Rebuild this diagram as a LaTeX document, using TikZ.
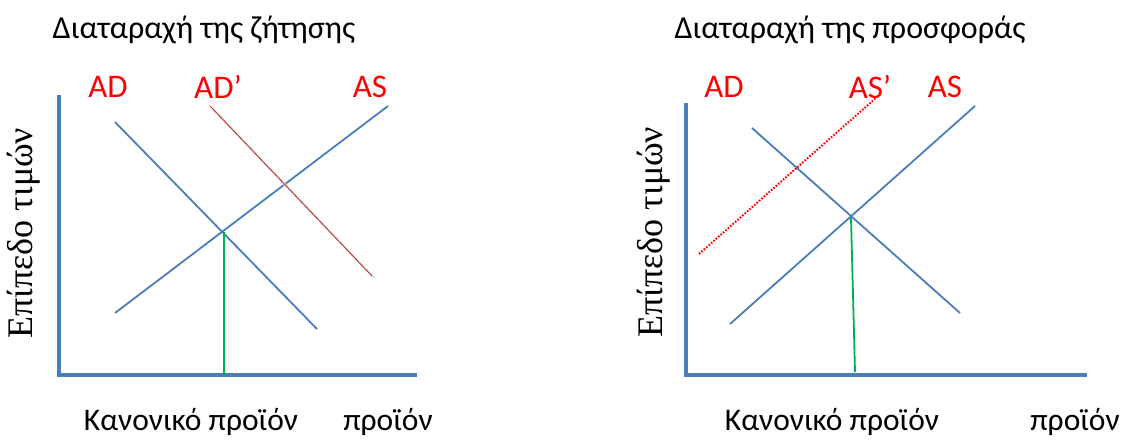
\documentclass[tikz,border=0pt]{standalone}
\usepackage{fontspec}
\setmainfont{Carlito}
\newfontfamily\serifgr{Liberation Serif}
\definecolor{axblue}{RGB}{74,126,187}
\definecolor{lnblue}{RGB}{74,126,187}
\definecolor{grn}{RGB}{0,176,80}
\definecolor{dred}{RGB}{192,40,40}
\begin{document}
\begin{tikzpicture}[x=1pt,y=-1pt,
  axis/.style={draw=axblue,line width=4pt},
  curve/.style={draw=lnblue,line width=1.8pt},
  eqline/.style={draw=grn,line width=1.8pt},
  lbl/.style={text=red,font=\fontsize{33}{36}\selectfont,inner sep=0pt},
  ttl/.style={text=black,font=\fontsize{32}{35}\selectfont,inner sep=0pt},
  xlbl/.style={text=black,font=\fontsize{31.5}{34}\selectfont,inner sep=0pt},
  ylbl/.style={text=black,font=\serifgr\fontsize{36}{38}\selectfont,inner sep=0pt,rotate=90}]
\useasboundingbox (0,0) rectangle (1123,439);
% ---------- left panel ----------
\node[ttl] (t1) at (204,30) {Διαταραχή της ζήτησης};
\node[lbl] (l1ad) at (108,87) {AD};
\node[lbl] (l1adp) at (218,87) {AD’};
\node[lbl] (l1as) at (370,87) {AS};
\node[ylbl] (y1) at (24,233) {Επίπεδο τιμών};
\node[xlbl] (x1a) at (191,422) {Κανονικό προϊόν};
\node[xlbl] (x1b) at (388,422) {προϊόν};
\coordinate (o1) at (59,375);
\coordinate (y1t) at (59,95);
\coordinate (x1r) at (417,375);
\coordinate (ad1s) at (115,122);
\coordinate (ad1e) at (317,329);
\coordinate (as1s) at (115,313);
\coordinate (as1e) at (388,106);
\coordinate (adp1s) at (210,106);
\coordinate (adp1e) at (372,276);
\coordinate (e1) at (224,232);
\coordinate (e1b) at (224,375);
\draw[axis] (y1t) -- (o1) -- (x1r);
\draw[curve] (ad1s) -- (ad1e);
\draw[curve] (as1s) -- (as1e);
\draw[black!12,line width=2pt] ([shift={(2,2)}]adp1s) -- ([shift={(2,2)}]adp1e);
\draw[dred,line width=0.8pt] (adp1s) -- (adp1e);
\draw[eqline] (e1) -- (e1b);
% ---------- right panel ----------
\node[ttl] (t2) at (850,30) {Διαταραχή της προσφοράς};
\node[lbl] (l2ad) at (724,87) {AD};
\node[lbl] (l2asp) at (870,87) {AS’};
\node[lbl] (l2as) at (945,87) {AS};
\node[ylbl] (y2) at (654,232) {Επίπεδο τιμών};
\node[xlbl] (x2a) at (832,422) {Κανονικό προϊόν};
\node[xlbl] (x2b) at (1075,422) {προϊόν};
\coordinate (o2) at (686,375);
\coordinate (y2t) at (686,103);
\coordinate (x2r) at (1087,375);
\coordinate (ad2s) at (752,128);
\coordinate (ad2e) at (960,313);
\coordinate (as2s) at (730,324);
\coordinate (as2e) at (975,106);
\coordinate (asp2s) at (699,254);
\coordinate (asp2e) at (877,97);
\coordinate (e2) at (851,218);
\coordinate (e2b) at (855,372);
\draw[axis] (y2t) -- (o2) -- (x2r);
\draw[curve] (ad2s) -- (ad2e);
\draw[curve] (as2s) -- (as2e);
\draw[red,line width=2pt,dash pattern=on 1.6pt off 1.6pt] (asp2s) -- (asp2e);
\draw[eqline] (e2) -- (e2b);
\end{tikzpicture}
\end{document}
